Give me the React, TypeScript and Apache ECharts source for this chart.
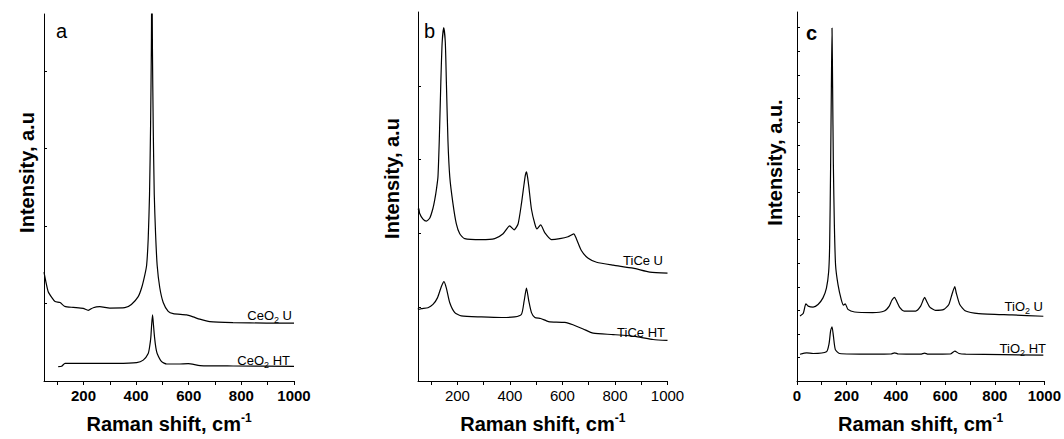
import React, { useEffect, useRef } from "react";
import * as echarts from "echarts";

const FONT = "'Liberation Sans', Arial, Helvetica, sans-serif";

// ---- Panel a: CeO2 ----
const ceU_x = [50, 58, 66, 80, 92, 111, 129, 161, 199, 218, 237, 262, 300, 357, 382, 408, 421, 433, 440, 446, 451, 455, 458, 460, 462, 465, 469, 474, 480, 490, 503, 522, 541, 592, 617, 642, 680, 768, 895, 1000];
const ceU_y = [111, 100, 91, 85, 81, 80, 76, 75, 74, 72, 74.7, 75.7, 74.3, 74.7, 78, 86, 95, 108, 118, 145, 190, 260, 340, 430, 340, 260, 190, 150, 118, 95, 80, 71, 68.7, 67.3, 65.3, 63, 60.5, 59.5, 59, 59];
const ceHT_x = [104, 117, 130, 200, 326, 402, 427, 446, 452, 456, 459, 462.5, 466, 470, 475, 480, 497, 516, 560, 598, 643, 769, 1000];
const ceHT_y = [14.7, 15, 18, 18, 18, 18.7, 21.3, 28, 36, 44.7, 57, 67.3, 57, 44.7, 34, 28, 19.7, 17.3, 17.3, 17.8, 15.7, 15.3, 15];

// ---- Panel b: TiCe ----
const ticeU_x = [50, 53, 56, 69, 82, 95, 107, 114, 120, 126, 131, 137, 142, 148, 154, 158, 164, 171, 183, 196, 209, 228, 291, 342, 374, 399, 416, 431, 444, 454, 459, 463, 467, 472, 482, 495, 503, 517, 533, 558, 590, 621, 643, 653, 672, 698, 730, 793, 869, 933, 1000];
const ticeU_y = [174.7, 176, 171, 165, 163, 166, 176, 185, 195, 208, 245, 305, 345, 360, 345, 305, 245, 208, 181, 160, 150, 145, 144, 145, 150, 158, 154, 160, 181, 201, 210, 213, 208, 198, 175, 160, 155, 159, 151, 144, 145, 147, 150, 145, 133, 125, 121, 118, 115, 111, 110];
const ticeHT_x = [50, 53, 63, 88, 107, 124, 139, 149, 158, 171, 190, 215, 291, 368, 418, 444, 454, 463, 472, 482, 495, 517, 539, 552, 609, 640, 679, 717, 793, 882, 945, 1000];
const ticeHT_y = [74, 73, 73.7, 74.7, 78, 84.7, 96.3, 101.3, 94.7, 79.7, 69.7, 66.3, 65.3, 64.7, 65.3, 68, 81.3, 94.7, 81.3, 69.7, 64.7, 63.7, 61.3, 60.3, 59.7, 57.3, 53, 48.7, 47.3, 45.3, 42.3, 41.3];

// ---- Panel c: TiO2 ----
const tioU_x = [12, 25, 36, 45, 65, 85, 105, 119, 128, 132, 136, 139, 141.6, 144, 147, 151, 156, 166, 179, 188, 195, 206, 233, 306, 353, 373, 383, 394, 403, 416, 433, 480, 500, 511, 516, 524, 537, 560, 594, 614, 627, 638, 644, 658, 682, 735, 869, 996];
const tioU_y = [66.3, 68.7, 78.7, 76.3, 75.3, 78, 84.7, 94.7, 111.3, 138, 221, 300, 359.7, 300, 221, 160, 118, 98, 83, 77.3, 78.7, 73, 70.3, 69.7, 71.3, 76.3, 82, 85.3, 81.3, 74.7, 71.3, 71.3, 76.3, 83, 85.3, 81.3, 75.3, 72, 73, 78, 88.7, 96.3, 89.7, 78, 71.3, 68.7, 67.3, 66];
const tioHT_x = [12, 39, 65, 119, 129.6, 136, 141.6, 147, 155, 172, 300, 380, 395, 410, 500, 516, 530, 620, 638, 655, 682, 996];
const tioHT_y = [27.3, 28.7, 28, 29.7, 38, 51.3, 55.3, 46.3, 32, 28, 27.3, 27.5, 28.7, 27.5, 27.3, 28.5, 27.3, 27.5, 30.5, 28, 27.3, 26.3];

// ---- Axis ticks / labels ----
const xTicksA = [100, 200, 300, 400, 500, 600, 700, 800, 900, 1000];
const xLabelsA = [200, 400, 600, 800, 1000];
const xTicksC = [0, 100, 200, 300, 400, 500, 600, 700, 800, 900, 1000];
const xLabelsC = [0, 200, 400, 600, 800, 1000];
const yTicksA = [79, 158, 237, 316];
const yTicksB = [75.2, 150.4, 225.6, 300.8];
const yTicksC = [24, 48, 72, 96, 120, 144, 168, 192, 216, 240, 264, 288, 312, 336, 360];

const zip = (xs: number[], ys: number[]) => xs.map((x, i) => [x, ys[i]]);

function xAxisDef(gridIndex: number, min: number, ticks: number[], labels: number[], bold: boolean) {
  return {
    type: "value",
    gridIndex,
    min,
    max: 1000,
    splitLine: { show: false },
    axisLine: { show: true, onZero: false, lineStyle: { color: "#000", width: 1 } },
    axisTick: { show: true, inside: false, length: 4, customValues: ticks, lineStyle: { color: "#000" } },
    axisLabel: {
      show: true,
      customValues: labels,
      formatter: (v: number) => String(v),
      margin: 7,
      color: "#000",
      fontFamily: FONT,
      fontSize: 15,
      fontWeight: bold ? "bold" : "normal",
    },
    name: "{t|Raman shift, cm}{s|-1}",
    nameLocation: "middle",
    nameGap: 31,
    nameTextStyle: {
      rich: {
        t: { fontFamily: FONT, fontSize: 20, fontWeight: "bold", color: "#000", lineHeight: 24 },
        s: { fontFamily: FONT, fontSize: 12, fontWeight: "bold", color: "#000", lineHeight: 12, verticalAlign: "top" },
      },
    },
  };
}

function yAxisDef(gridIndex: number, max: number, ticks: number[], name: string, shift: number, gap: number) {
  return {
    type: "value",
    gridIndex,
    min: 0,
    max,
    splitLine: { show: false },
    axisLine: { show: true, onZero: false, lineStyle: { color: "#000", width: 1 } },
    axisTick: { show: true, inside: true, length: 3, customValues: ticks, lineStyle: { color: "#000" } },
    axisLabel: { show: false },
    name,
    nameLocation: "middle",
    nameGap: gap,
    nameTextStyle: {
      fontFamily: FONT,
      fontSize: 20,
      fontWeight: "bold",
      color: "#000",
      padding: [0, 0, 0, shift * 2],
    },
  };
}

function lineSeries(name: string, data: number[][], idx: number) {
  return {
    type: "line",
    name,
    xAxisIndex: idx,
    yAxisIndex: idx,
    data,
    symbol: "none",
    smooth: 0.2,
    clip: true,
    lineStyle: { color: "#000", width: 1.2 },
  };
}

const labelRich = {
  m: { fontFamily: FONT, fontSize: 13, color: "#222", lineHeight: 18 },
  s: { fontFamily: FONT, fontSize: 9, color: "#222", lineHeight: 9, verticalAlign: "bottom" },
};

function seriesLabel(text: string, x: number, y: number) {
  return {
    type: "text",
    x,
    y,
    silent: true,
    style: { text, rich: labelRich, align: "right", verticalAlign: "middle" },
  };
}

function panelLetter(text: string, x: number, y: number, bold: boolean) {
  return {
    type: "text",
    x,
    y,
    silent: true,
    style: {
      text,
      fontFamily: FONT,
      fontSize: 20,
      fontWeight: bold ? "bold" : "normal",
      fill: "#000",
      align: "left",
      verticalAlign: "middle",
    },
  };
}

export default function App() {
  const ref = useRef<HTMLDivElement>(null);

  useEffect(() => {
    if (!ref.current) return;
    const chart = echarts.init(ref.current, undefined, { renderer: "svg" });
    chart.setOption({
      animation: false,
      backgroundColor: "#fff",
      grid: [
        { left: 44, top: 14, width: 250, height: 374 },
        { left: 418, top: 12, width: 249.5, height: 376 },
        { left: 797, top: 12, width: 249, height: 376 },
      ],
      xAxis: [
        xAxisDef(0, 50, xTicksA, xLabelsA, true),
        xAxisDef(1, 50, xTicksA, xLabelsA, false),
        xAxisDef(2, 0, xTicksC, xLabelsC, true),
      ],
      yAxis: [
        yAxisDef(0, 374, yTicksA, "Intensity, a.u", 25, 7),
        yAxisDef(1, 376, yTicksB, "Intensity, a.u", 18, 16),
        yAxisDef(2, 376, yTicksC, "Intensity, a.u.", 34, 12),
      ],
      series: [
        lineSeries("CeO2 U", zip(ceU_x, ceU_y), 0),
        lineSeries("CeO2 HT", zip(ceHT_x, ceHT_y), 0),
        lineSeries("TiCe U", zip(ticeU_x, ticeU_y), 1),
        lineSeries("TiCe HT", zip(ticeHT_x, ticeHT_y), 1),
        lineSeries("TiO2 U", zip(tioU_x, tioU_y), 2),
        lineSeries("TiO2 HT", zip(tioHT_x, tioHT_y), 2),
      ],
      graphic: [
        panelLetter("a", 56, 31, false),
        panelLetter("b", 424, 31, false),
        panelLetter("c", 806, 33, true),
        seriesLabel("{m|CeO}{s|2}{m| U}", 292, 315),
        seriesLabel("{m|CeO}{s|2}{m| HT}", 290, 360),
        seriesLabel("{m|TiCe U}", 663, 260),
        seriesLabel("{m|TiCe HT}", 665, 332),
        seriesLabel("{m|TiO}{s|2}{m| U}", 1043, 306),
        seriesLabel("{m|TiO}{s|2}{m| HT}", 1046, 348),
      ],
    });
    return () => chart.dispose();
  }, []);

  return (
    <div
      ref={ref}
      style={{ position: "absolute", left: 0, top: 0, width: 1064, height: 439, background: "#fff" }}
    />
  );
}
